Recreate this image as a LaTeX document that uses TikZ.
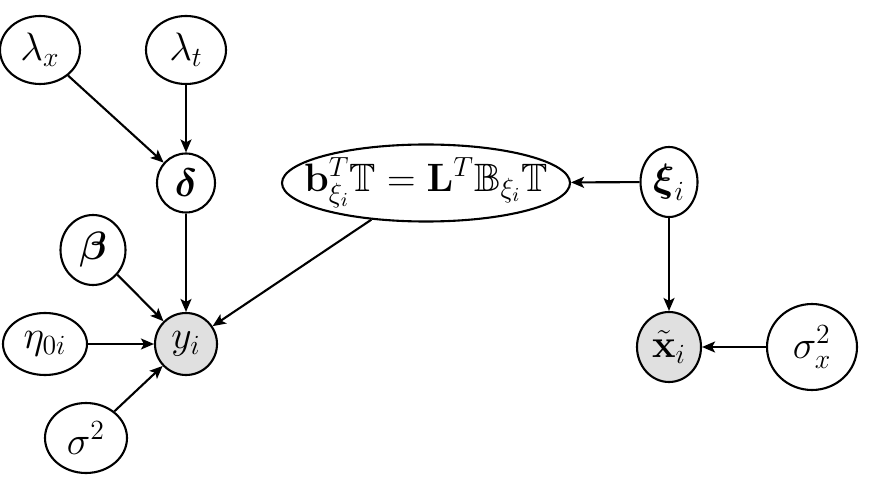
\RequirePackage{fix-cm}
\documentclass[tikz,border=0pt]{standalone}
\usepackage{amsmath,amssymb}
\usetikzlibrary{shapes.geometric,arrows.meta}
\tikzset{
  var/.style={ellipse,draw,line width=1.05pt,inner sep=0pt,font=\fontsize{19.8}{24}\selectfont},
  obs/.style={var,fill=black!12},
  edge/.style={line width=1.05pt,-{Stealth[length=6.5pt,width=5.5pt,inset=1.5pt]}}
}
\begin{document}
\begin{tikzpicture}[x=0.5pt,y=-0.5pt]
\useasboundingbox (0,0) rectangle (870,480);
\node[var,minimum width=40pt,minimum height=34pt] (lx) at (40,50) {$\lambda_x$};
\node[var,minimum width=40pt,minimum height=34pt] (lt) at (186,50) {$\lambda_t$};
\node[var,minimum width=29pt,minimum height=29.5pt] (delta) at (186,183) {$\boldsymbol{\delta}$};
\node[var,minimum width=32.5pt,minimum height=35pt] (beta) at (93,250) {$\boldsymbol{\beta}$};
\node[obs,minimum width=31pt,minimum height=31pt] (y) at (186,344) {$y_i$};
\node[var,minimum width=42pt,minimum height=31pt] (eta) at (45,344) {$\eta_{0i}$};
\node[var,minimum width=41pt,minimum height=35pt] (sig) at (86,438) {$\sigma^2$};
\node[var,inner xsep=-12pt,inner ysep=-4pt,minimum width=144pt,minimum height=38.5pt] (big) at (426,183) {$\mathbf{b}^T_{\xi_i}\mathbb{T}=\mathbf{L}^T\mathbb{B}_{\xi_i}\mathbb{T}$};
\node[var,minimum width=28.5pt,minimum height=35pt] (xi) at (669,182) {$\boldsymbol{\xi}_i$};
\node[obs,minimum width=32pt,minimum height=35pt] (xt) at (669,347) {$\tilde{\mathbf{x}}_i$};
\node[var,minimum width=45pt,minimum height=43pt] (sx) at (812,347) {$\sigma_x^2$};
\draw[edge] (lx) -- (delta);
\draw[edge] (lt) -- (delta);
\draw[edge] (delta) -- (y);
\draw[edge] (beta) -- (y);
\draw[edge] (eta) -- (y);
\draw[edge] (sig) -- (y);
\draw[edge] (big) -- (y);
\draw[edge] (xi) -- (big);
\draw[edge] (xi) -- (xt);
\draw[edge] (sx) -- (xt);
\end{tikzpicture}
\end{document}
